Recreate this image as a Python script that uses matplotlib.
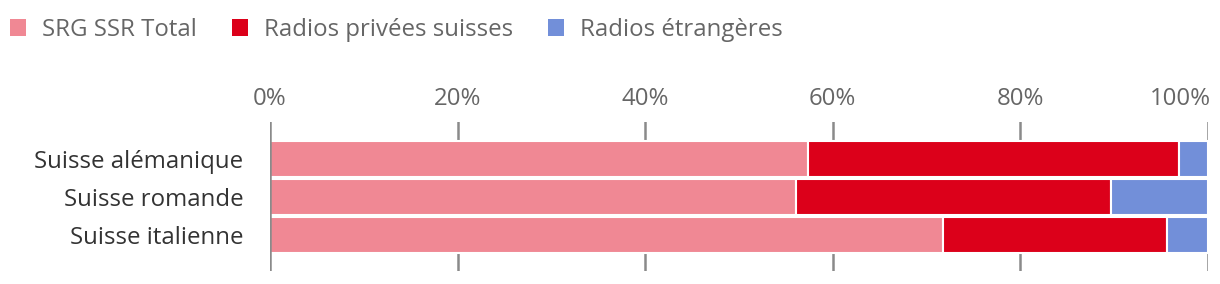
import matplotlib
matplotlib.use("Agg")
import matplotlib.pyplot as plt
from matplotlib.patches import Patch
from matplotlib.transforms import ScaledTranslation

categories = ["Suisse alémanique", "Suisse romande", "Suisse italienne"]
series_names = ["SRG SSR Total", "Radios privées suisses", "Radios étrangères"]
srg = [57.4, 56.1, 71.7]
privees = [39.5, 33.6, 23.9]
etrangeres = [3.1, 10.3, 4.4]
colors = ["#f08894", "#dc001a", "#728fd9"]
ticks = [0, 20, 40, 60, 80, 100]
tick_labels = ["0%", "20%", "40%", "60%", "80%", "100%"]

plt.rcParams['font.family'] = ['Open Sans', 'DejaVu Sans']
FS = 17.3

fig = plt.figure(figsize=(12.2, 2.84), dpi=100)
ax = fig.add_axes([270/1220, 1-271/284, (1208-270)/1220, (271-122)/284])

ypos = list(range(len(categories)))
left = [0]*len(categories)
for vals, col in zip([srg, privees, etrangeres], colors):
    ax.barh(ypos, vals, left=left, height=0.96, color=col, edgecolor="white", linewidth=1.5, zorder=3)
    left = [l+v for l, v in zip(left, vals)]

ax.set_xlim(0, 100)
ax.set_ylim(2.95, -0.97)
ax.set_xticks(ticks)
ax.set_xticklabels(tick_labels)
ax.xaxis.tick_top()
ax.tick_params(axis='x', length=0, pad=8, labelsize=FS, labelcolor="#666666")
xl = ax.get_xticklabels()
xl[-1].set_ha("right")
xl[-1].set_transform(xl[-1].get_transform() + ScaledTranslation(3/100, 0, fig.dpi_scale_trans))
ax.set_yticks(ypos)
ax.set_yticklabels(categories)
ax.tick_params(axis='y', length=0, pad=19, labelsize=FS, labelcolor="#333333")
for s in ax.spines.values():
    s.set_visible(False)
for t in ticks:
    ax.axvline(t, color="#8a8a8a", linewidth=1.8, zorder=2 if t != 0 else 4)

handles = [Patch(facecolor=c, edgecolor="none") for c in colors]
fig.legend(handles, series_names, loc="upper left", bbox_to_anchor=(10/1220, 1-18/284), ncol=3,
           frameon=False, fontsize=FS, labelcolor="#666666", handlelength=0.66, handleheight=0.66,
           handletextpad=0.68, columnspacing=1.45, borderaxespad=0, borderpad=0)

fig.savefig("out.png", dpi=100)
